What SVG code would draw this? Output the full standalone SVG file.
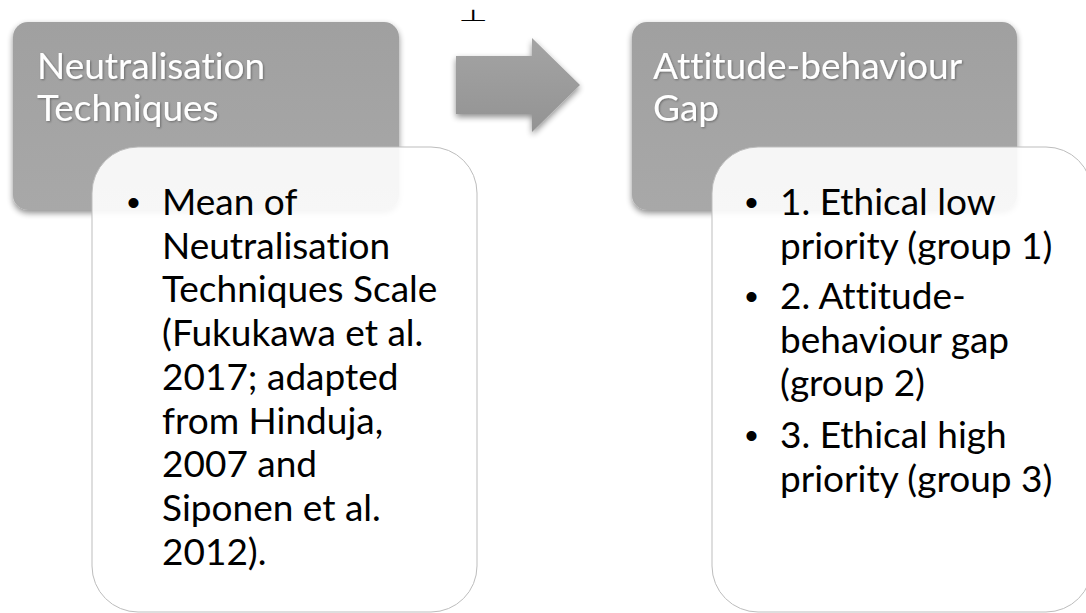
<svg xmlns="http://www.w3.org/2000/svg" width="1086" height="613" viewBox="0 0 1086 613">
  <style>
    text { font-variant-ligatures: none; font-feature-settings: "liga" 0, "dlig" 0; }
    .hdr { fill: url(#hdrFill); filter: url(#shadow); }
    .hdrText { font-family: Lato, "Liberation Sans", sans-serif; font-size: 37px; fill: #ffffff; filter: url(#textShade); }
    .card { fill: #ffffff; fill-opacity: 0.9; stroke: #bdbdbd; stroke-width: 1; }
    .body { font-family: Lato, "Liberation Sans", sans-serif; font-size: 37px; fill: #000000; }
    .dot { font-family: "Liberation Sans", sans-serif; font-size: 37px; fill: #000000; }
  </style>
  <defs>
    <linearGradient id="hdrFill" x1="0" y1="0" x2="0" y2="1">
      <stop offset="0" stop-color="#a0a0a0"/>
      <stop offset="1" stop-color="#a8a8a8"/>
    </linearGradient>
    <linearGradient id="arrowFill" x1="0" y1="0" x2="0" y2="1">
      <stop offset="0" stop-color="#a4a4a4"/>
      <stop offset="1" stop-color="#939393"/>
    </linearGradient>
    <filter id="shadow" x="-10%" y="-10%" width="120%" height="125%">
      <feGaussianBlur in="SourceAlpha" stdDeviation="3"/>
      <feOffset dx="0" dy="3" result="blur"/>
      <feComponentTransfer><feFuncA type="linear" slope="0.45"/></feComponentTransfer>
      <feMerge><feMergeNode/><feMergeNode in="SourceGraphic"/></feMerge>
    </filter>
    <filter id="textShade" x="-5%" y="-20%" width="110%" height="140%">
      <feGaussianBlur in="SourceAlpha" stdDeviation="1.2"/>
      <feOffset dx="0.5" dy="1" result="b"/>
      <feComponentTransfer><feFuncA type="linear" slope="0.35"/></feComponentTransfer>
      <feMerge><feMergeNode/><feMergeNode in="SourceGraphic"/></feMerge>
    </filter>
  </defs>

  <rect width="1086" height="613" fill="#ffffff"/>

  <!-- small mark above the arrow -->
  <text x="0" y="0" transform="translate(459,21) scale(2.1,1)" font-family="DejaVu Sans, sans-serif" font-size="16" fill="#000000">⊥</text>

  <!-- left node: header + detail card -->
  <g id="node-neutralisation">
    <rect class="hdr" x="13" y="22" width="386" height="188" rx="15"/>
    <text class="hdrText" x="37" y="79">Neutralisation</text>
    <text class="hdrText" x="37" y="121">Techniques</text>
  </g>
  <g id="card-neutralisation">
    <rect class="card" x="92" y="147" width="385" height="465" rx="46"/>
    <text class="dot" x="127" y="215">•</text>
    <text class="body" x="162">
      <tspan x="162" y="215">Mean of</tspan>
      <tspan x="162" y="258.7">Neutralisation</tspan>
      <tspan x="162" y="302.4">Techniques Scale</tspan>
      <tspan x="162" y="346.1">(Fukukawa et al.</tspan>
      <tspan x="162" y="389.8">2017; adapted</tspan>
      <tspan x="162" y="433.5">from Hinduja,</tspan>
      <tspan x="162" y="477.2">2007 and</tspan>
      <tspan x="162" y="520.9">Siponen et al.</tspan>
      <tspan x="162" y="564.6">2012).</tspan>
    </text>
  </g>

  <!-- right node: header + detail card -->
  <g id="node-gap">
    <rect class="hdr" x="632" y="22" width="385" height="188" rx="15"/>
    <text class="hdrText" x="653" y="79">Attitude-behaviour</text>
    <text class="hdrText" x="653" y="121">Gap</text>
  </g>
  <g id="card-gap">
    <rect class="card" x="712" y="147" width="380" height="465" rx="46"/>
    <text class="dot" x="745" y="215">•</text>
    <text class="dot" x="745" y="309">•</text>
    <text class="dot" x="745" y="448">•</text>
    <text class="body">
      <tspan x="780" y="215">1. Ethical low</tspan>
      <tspan x="780" y="258.5">priority (group 1)</tspan>
      <tspan x="780" y="309">2. Attitude-</tspan>
      <tspan x="780" y="352.5">behaviour gap</tspan>
      <tspan x="780" y="396">(group 2)</tspan>
      <tspan x="780" y="448">3. Ethical high</tspan>
      <tspan x="780" y="491.5">priority (group 3)</tspan>
    </text>
  </g>

  <!-- connector -->
  <g id="connectors">
    <path d="M456,56 H532 V38 L580,85 L532,132 V114 H456 Z" fill="url(#arrowFill)" filter="url(#shadow)"/>
  </g>
</svg>
